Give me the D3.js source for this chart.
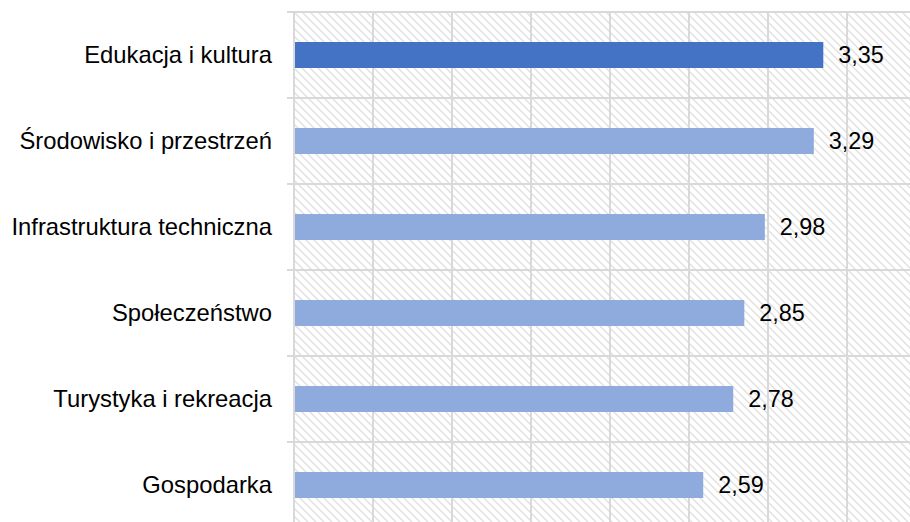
<!DOCTYPE html>
<html>
<head>
<meta charset="utf-8">
<script src="https://cdn.jsdelivr.net/npm/d3@7/dist/d3.min.js"></script>
<style>
  body{margin:0;background:#fff;}
  text{font-family:"Liberation Sans",Arial,sans-serif;}
</style>
</head>
<body>
<div id="chart"></div>
<script>
const categories = ["Edukacja i kultura","Środowisko i przestrzeń","Infrastruktura techniczna","Społeczeństwo","Turystyka i rekreacja","Gospodarka"];
const values = [3.35,3.29,2.98,2.85,2.78,2.59];
const tickValues = [0,0.5,1,1.5,2,2.5,3,3.5,4];

const W = 910, H = 522;
const margin = {"top":12,"right":0,"bottom":0,"left":294};
const plotH = 516; // plot runs past the bottom edge
const plotW = 632;

const svg = d3.select("#chart")
  .append("svg")
  .attr("width",W)
  .attr("height",H);

const defs = svg.append("defs");
const pat = defs.append("pattern")
  .attr("id","hatch")
  .attr("patternUnits","userSpaceOnUse")
  .attr("width",8)
  .attr("height",8);
pat.append("path")
  .attr("d","M-2,-2L10,10M-2,6L2,10M6,-2L10,2")
  .attr("stroke","#e0e0e0")
  .attr("stroke-width",1.4);

const g = svg.append("g")
  .attr("transform",`translate(${margin.left},${margin.top})`);

const x = d3.scaleLinear().domain([0,4]).range([0,plotW]);
const y = d3.scaleBand().domain(categories).range([0,plotH]).paddingInner(0).paddingOuter(0);

g.append("rect")
  .attr("x",0).attr("y",0)
  .attr("width",plotW).attr("height",plotH)
  .attr("fill","url(#hatch)");

// vertical gridlines
g.selectAll("line.vgrid")
  .data(tickValues)
  .join("line")
  .attr("class","vgrid")
  .attr("x1",d=>x(d)).attr("x2",d=>x(d))
  .attr("y1",0).attr("y2",plotH)
  .attr("stroke","#d9d9d9")
  .attr("stroke-width",2);

// horizontal band lines (with tick stubs on the left)
const bandEdges = categories.map(c=>y(c)).concat([plotH]);
g.selectAll("line.hgrid")
  .data(bandEdges)
  .join("line")
  .attr("class","hgrid")
  .attr("x1",-7).attr("x2",plotW)
  .attr("y1",d=>d).attr("y2",d=>d)
  .attr("stroke","#d9d9d9")
  .attr("stroke-width",2);

const barH = 26;
g.selectAll("rect.bar")
  .data(values)
  .join("rect")
  .attr("class","bar")
  .attr("x",x(0)+1)
  .attr("y",(d,i)=>y(categories[i])+y.bandwidth()/2-barH/2)
  .attr("width",d=>x(d)-x(0)-1)
  .attr("height",barH)
  .attr("fill",(d,i)=> i===0 ? "#4472c4" : "#8faadc");

g.selectAll("text.val")
  .data(values)
  .join("text")
  .attr("class","val")
  .attr("x",d=>x(d)+15)
  .attr("y",(d,i)=>y(categories[i])+y.bandwidth()/2)
  .attr("dy","0.35em")
  .attr("font-size",23.4)
  .attr("fill","#000")
  .text(d=>d.toFixed(2).replace(".",","));

g.selectAll("text.cat")
  .data(categories)
  .join("text")
  .attr("class","cat")
  .attr("x",-22)
  .attr("y",d=>y(d)+y.bandwidth()/2)
  .attr("dy","0.35em")
  .attr("text-anchor","end")
  .attr("font-size",23.8)
  .attr("fill","#000")
  .text(d=>d);
</script>
</body>
</html>
